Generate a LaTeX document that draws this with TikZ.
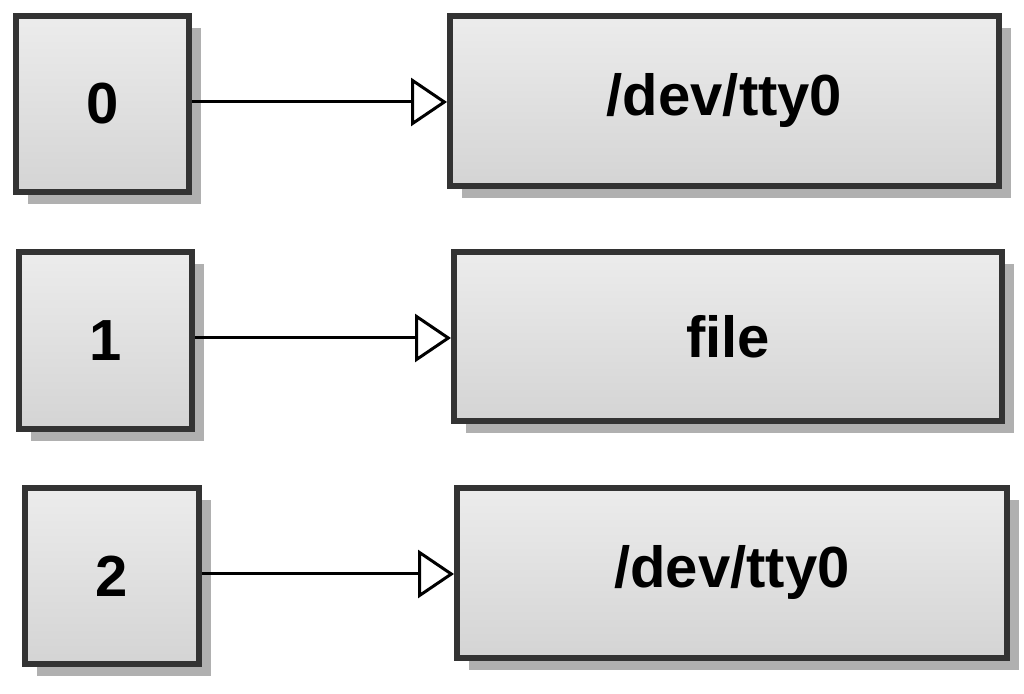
\documentclass[tikz,border=0pt]{standalone}
\usepackage{fontspec}
\setmainfont{Liberation Sans}
\usetikzlibrary{arrows.meta,shadows}
\definecolor{boxborder}{HTML}{333333}
\definecolor{boxtop}{HTML}{ECECEC}
\definecolor{boxbot}{HTML}{D4D4D4}
\definecolor{shadowgray}{HTML}{B0B0B0}
\tikzset{
  fdbox/.style={draw=boxborder, line width=6pt, top color=boxtop, bottom color=boxbot,
    drop shadow={shadow xshift=12pt, shadow yshift=-12pt, fill=shadowgray, opacity=1},
    font=\fontsize{58}{60}\selectfont\bfseries, inner sep=0pt},
  link/.style={line width=3pt, -{Triangle[open, length=36pt, width=48pt, line width=3pt]}}
}
\begin{document}
\begin{tikzpicture}[x=1pt,y=1pt]
\useasboundingbox (0,0) rectangle (1024,693);
\node[fdbox, minimum width=173pt, minimum height=176pt] (b0) at (102.5,589) {0};
\node[fdbox, minimum width=549pt, minimum height=170pt] (t0) at (724.5,592) {/dev/tty0};
\node[fdbox, minimum width=173pt, minimum height=177pt] (b1) at (105.5,352.5) {1};
\node[fdbox, minimum width=548pt, minimum height=169pt] (f1) at (728,356.5) {file};
\node[fdbox, minimum width=174pt, minimum height=176pt] (b2) at (112,117) {2};
\node[fdbox, minimum width=550pt, minimum height=170pt] (t2) at (732,120) {/dev/tty0};
\coordinate (a0) at ([yshift=2pt]b0.east);
\coordinate (a1) at ([yshift=2.5pt]b1.east);
\coordinate (a2) at ([yshift=2pt]b2.east);
\draw[link] (a0) -- (a0 -| t0.west);
\draw[link] (a1) -- (a1 -| f1.west);
\draw[link] (a2) -- (a2 -| t2.west);
\end{tikzpicture}
\end{document}
